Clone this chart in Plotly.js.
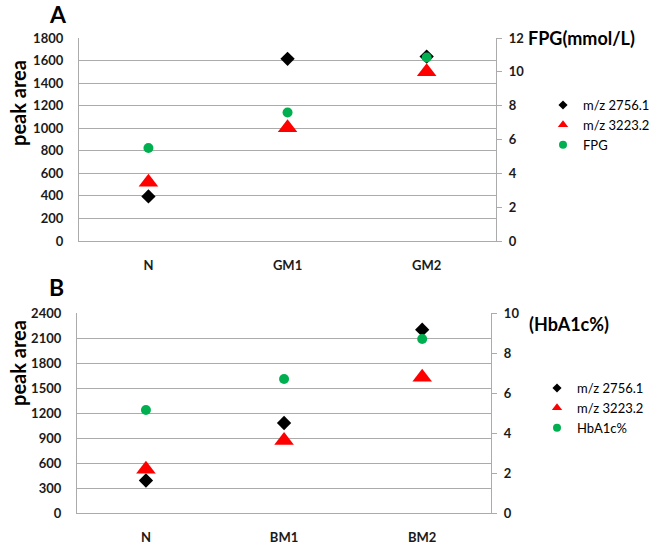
<!DOCTYPE html>
<html><head><meta charset="utf-8">
<script src="https://cdn.plot.ly/plotly-3.0.1.min.js"></script>
<style>html,body{margin:0;padding:0;background:#fff}</style>
</head><body><div id="chart" style="width:655px;height:544px"></div>
<script>
// Panel A data
var catsA = ['N', 'GM1', 'GM2'];
var mz2756A = [395, 1615, 1635];
var mz3223A = [520, 1005, 1500];
var fpg = [5.5, 7.6, 10.85];
// Panel B data
var catsB = ['N', 'BM1', 'BM2'];
var mz2756B = [390, 1080, 2200];
var mz3223B = [525, 870, 1630];
var hba1c = [5.15, 6.7, 8.7];
// series names
var namesA = ['m/z 2756.1', 'm/z 3223.2', 'FPG'];
var namesB = ['m/z 2756.1', 'm/z 3223.2', 'HbA1c%'];

var W = 655, H = 544;
function px(x) { return x / W; }
function py(y) { return 1 - y / H; }

var FONT = 'Lato, "Open Sans", sans-serif';
var GRID = '#ababab';
var BLACK = '#000000', RED = '#ff0000', GREEN = '#00b050';

var traces = [
  {x: catsA, y: mz2756A, type: 'scatter', mode: 'markers', xaxis: 'x', yaxis: 'y', showlegend: false,
   marker: {symbol: 'diamond', size: 11, color: BLACK}},
  {x: catsA, y: mz3223A, type: 'scatter', mode: 'markers', xaxis: 'x', yaxis: 'y', showlegend: false,
   marker: {symbol: 'triangle-up', size: 17, color: RED}},
  {x: catsA, y: fpg, type: 'scatter', mode: 'markers', xaxis: 'x', yaxis: 'y3', showlegend: false,
   marker: {symbol: 'circle', size: 10, color: GREEN}},
  {x: catsB, y: mz2756B, type: 'scatter', mode: 'markers', xaxis: 'x2', yaxis: 'y2', showlegend: false,
   marker: {symbol: 'diamond', size: 11, color: BLACK}},
  {x: catsB, y: mz3223B, type: 'scatter', mode: 'markers', xaxis: 'x2', yaxis: 'y2', showlegend: false,
   marker: {symbol: 'triangle-up', size: 17, color: RED}},
  {x: catsB, y: hba1c, type: 'scatter', mode: 'markers', xaxis: 'x2', yaxis: 'y4', showlegend: false,
   marker: {symbol: 'circle', size: 10, color: GREEN}},
  // legend entries (no visible points)
  {x: [null], y: [null], type: 'scatter', mode: 'markers', xaxis: 'x', yaxis: 'y', name: namesA[0], legend: 'legend', showlegend: true,
   marker: {symbol: 'diamond', size: 7, color: BLACK}},
  {x: [null], y: [null], type: 'scatter', mode: 'markers', xaxis: 'x', yaxis: 'y', name: namesA[1], legend: 'legend', showlegend: true,
   marker: {symbol: 'triangle-up', size: 9, color: RED}},
  {x: [null], y: [null], type: 'scatter', mode: 'markers', xaxis: 'x', yaxis: 'y', name: namesA[2], legend: 'legend', showlegend: true,
   marker: {symbol: 'circle', size: 8, color: GREEN}},
  {x: [null], y: [null], type: 'scatter', mode: 'markers', xaxis: 'x2', yaxis: 'y2', name: namesB[0], legend: 'legend2', showlegend: true,
   marker: {symbol: 'diamond', size: 7, color: BLACK}},
  {x: [null], y: [null], type: 'scatter', mode: 'markers', xaxis: 'x2', yaxis: 'y2', name: namesB[1], legend: 'legend2', showlegend: true,
   marker: {symbol: 'triangle-up', size: 9, color: RED}},
  {x: [null], y: [null], type: 'scatter', mode: 'markers', xaxis: 'x2', yaxis: 'y2', name: namesB[2], legend: 'legend2', showlegend: true,
   marker: {symbol: 'circle', size: 8, color: GREEN}}
];

var tickFont = {family: FONT, size: 13, color: '#1a1a1a', weight: 'bold'};

function xAx(dom, anchor) {
  return {domain: dom, anchor: anchor, type: 'category', range: [-0.5, 2.5],
    showline: true, linecolor: GRID, linewidth: 1, showgrid: false, zeroline: false,
    ticks: '', ticklabelstandoff: 12, tickfont: tickFont, fixedrange: true};
}
function yLeft(dom, anchor, rng, dt) {
  return {domain: dom, anchor: anchor, range: rng, dtick: dt, tick0: 0,
    showline: true, linecolor: GRID, showgrid: true, gridcolor: GRID, gridwidth: 1,
    zeroline: false, ticks: '', ticklabelstandoff: 12, tickfont: tickFont, fixedrange: true};
}
function yRight(over, anchor, rng, dt) {
  return {overlaying: over, anchor: anchor, side: 'right', range: rng, dtick: dt, tick0: 0,
    showline: true, linecolor: GRID, showgrid: false, zeroline: false,
    ticks: 'outside', ticklen: 5, tickcolor: GRID, ticklabelstandoff: 4, tickfont: tickFont, fixedrange: true};
}

var legFont = {family: FONT, size: 13, color: '#000000'};

function ann(text, x, y, size, extra) {
  var a = {text: text, x: px(x), y: py(y), xref: 'paper', yref: 'paper', showarrow: false,
    xanchor: 'center', yanchor: 'middle', font: {family: FONT, size: size, color: '#000', weight: 'bold'}};
  for (var k in extra) a[k] = extra[k];
  return a;
}

var layout = {
  width: W, height: H,
  margin: {l: 0, r: 0, t: 0, b: 0},
  paper_bgcolor: '#ffffff', plot_bgcolor: '#ffffff',
  font: {family: FONT},
  xaxis: xAx([px(79), px(497)], 'y'),
  yaxis: yLeft([py(241), py(38)], 'x', [0, 1800], 200),
  yaxis3: yRight('y', 'x', [0, 12], 2),
  xaxis2: xAx([px(77), px(492)], 'y2'),
  yaxis2: yLeft([py(513), py(313)], 'x2', [0, 2400], 300),
  yaxis4: yRight('y2', 'x2', [0, 10], 2),
  legend: {x: px(544), y: py(90), xanchor: 'left', yanchor: 'top', font: legFont,
    bgcolor: 'rgba(0,0,0,0)', itemwidth: 30, tracegroupgap: 0},
  legend2: {x: px(537), y: py(373), xanchor: 'left', yanchor: 'top', font: legFont,
    bgcolor: 'rgba(0,0,0,0)', itemwidth: 30, tracegroupgap: 0},
  annotations: [
    ann('A', 58, 14, 23),
    ann('B', 57, 287, 23),
    ann('peak area', 18, 103, 20, {textangle: -90}),
    ann('peak area', 18, 363, 20, {textangle: -90}),
    ann('FPG(mmol/L)', 527, 38, 18, {xanchor: 'left'}),
    ann('(HbA1c%)', 528, 324, 18, {xanchor: 'left'})
  ]
};

Plotly.newPlot('chart', traces, layout, {displayModeBar: false, staticPlot: true});
</script></body></html>
